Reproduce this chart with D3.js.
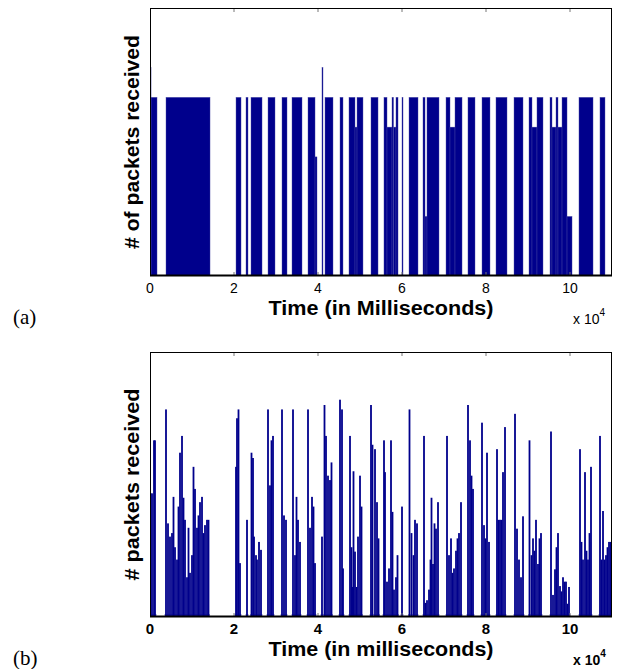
<!DOCTYPE html>
<html><head><meta charset="utf-8">
<script src="https://cdn.jsdelivr.net/npm/d3@7"></script>
<style>body{margin:0;background:#fff}svg{display:block}</style>
</head><body>
<svg id="c" width="624" height="669"></svg>
<script>
// ---- Data ----
// (a) segments of packets received: start ms, end ms, count
const segStartA = [0,250,3810,20480,22860,24050,28100,31430,33810,37620,39290,40950,41670,45240,47380,48810,49290,52620,55710,56430,57620,57980,58570,60000,61670,65000,65480,65950,70480,71430,72620,75710,79050,82380,86670,90240,90950,92140,95240,95710,96670,97140,98100,99290,102140,107140];
const segEndA   = [250,1670,14290,21670,23330,26670,29760,32620,36190,39290,39760,41190,43570,45950,48810,49290,50710,54290,56430,57620,57980,58570,59050,60240,63810,65480,65950,68810,71430,72620,74290,77380,80950,85000,88810,90950,92140,93570,95710,96670,97140,98100,99290,100480,105480,108330];
const segValueA = [7,6,6,6,6,6,6,6,6,6,4,7,6,6,6,5,6,6,6,5,6,5,6,6,6,6,2,6,6,5,6,6,6,6,6,6,5,6,6,5,6,5,6,2,6,6];

// (b) bars: time ms, packets
const timeB = [100,500,900,1200,
 3800,4300,4760,5240,5600,5950,6430,6790,7140,7620,7980,8330,8810,9170,9520,10000,10360,10710,11190,11550,11900,12380,12740,13100,13570,13930,
 20480,20710,21070,21430,23100,
 24170,24520,24760,25240,25480,25950,26430,
 28100,28570,28930,29290,
 31430,31900,32380,
 34050,34520,34880,35240,35710,
 37620,38100,38570,38930,39290,
 40950,41550,41900,42380,42860,43210,
 45240,45710,45950,
 47620,47980,48220,48450,48810,49170,49520,50000,50360,
 52620,52980,53570,54050,54400,
 55710,55950,56430,56900,57380,57740,58100,58570,58930,
 60000,
 61790,62260,62740,63100,63570,
 65240,65600,65950,66430,66790,67020,67380,67740,68100,68570,
 70710,71190,71670,72020,72380,72860,73210,73570,74050,
 75710,76190,76550,76900,
 79050,79520,79880,80240,80710,
 82620,82980,83330,83690,84050,84520,
 86900,87380,87860,88330,88810,
 90360,90830,91190,91550,91900,92380,92740,93100,
 95480,95950,96430,96790,97140,97620,97980,98330,98690,99050,99400,99760,
 102380,102740,103100,103570,103930,104290,104640,105000,
 107140,107500,107860,108210,108570,108930,109290,109640];
const valueB = [14,14,20,20,
 23.5,10.6,9.1,9.5,13.6,7.9,6.5,12.5,18.6,20.5,13.5,11,4.5,10.1,5,7,17,14.5,10.1,11.5,13,13.6,9.5,10.4,11,11,
 17,22.5,23.5,6.1,11,
 18.6,18,9.1,7,6.5,8.5,7.6,
 23.5,14.9,20,20.5,
 23.5,11.5,11,
 23.5,7,13.6,11,8.5,
 23.5,10.1,13.6,12.5,6.1,
 9.1,24,20.5,16,15.5,17.5,
 24.6,23.5,5.5,
 20.5,7.9,3.4,16.5,7.4,3.4,9.1,16,12.5,
 24,19.5,19,13,8.9,
 20,16.4,4,5.5,20,11.9,3.1,4.5,7,
 12.5,
 23.5,9.5,7,11,10.6,
 20.5,1.6,1.9,3.1,6.5,13.5,6,10.6,10,13,
 20.5,7,8.9,5,5.5,7.5,8.9,9.5,13,
 24,20,16,14.5,
 22,10.4,8.9,18.6,8.5,
 19,11,11,11,16.4,21.5,
 23,10,6.5,4.5,11.4,
 20,7,8.9,7.5,11,6,8.9,9.5,
 21,2.5,5.4,7.9,9.5,3.5,2.9,4.5,4,4,1.5,3.4,
 19,8.5,6.5,16.4,7.5,6.5,9.5,17,
 20.5,6.5,12,6.5,7,7.9,8.5,8.5];

const xTicks = [0,20000,40000,60000,80000,100000];
const xTickLabels = ["0","2","4","6","8","10"];

// ---- Drawing ----
const svg = d3.select("#c");
const barColor = "#00008c";
const SANS = "'Liberation Sans', Arial, Helvetica, sans-serif";
const L = 150, R = 612;

function panel(cfg){
  const x = d3.scaleLinear().domain([0,110000]).range([L,R]);
  const y = d3.scaleLinear().domain(cfg.yDomain).range([cfg.bottom,cfg.top]);
  const g = svg.append("g");
  const clipId = "clip"+cfg.id;
  svg.append("clipPath").attr("id",clipId).append("rect")
    .attr("x",L).attr("y",cfg.top).attr("width",R-L).attr("height",cfg.bottom-cfg.top);
  const marks = g.append("g").attr("clip-path","url(#"+clipId+")");
  cfg.draw(marks,x,y);
  // ticks (inside, bottom & top)
  const tk = g.append("g");
  xTicks.slice(1).forEach(t=>{
    tk.append("line").attr("x1",x(t)).attr("x2",x(t)).attr("y1",cfg.bottom).attr("y2",cfg.bottom-4)
      .attr("stroke","#777").attr("stroke-width",1);
    tk.append("line").attr("x1",x(t)).attr("x2",x(t)).attr("y1",cfg.top).attr("y2",cfg.top+4)
      .attr("stroke","#777").attr("stroke-width",1);
  });
  // frame
  g.append("rect").attr("x",L+0.5).attr("y",cfg.top+0.5).attr("width",R-L-1).attr("height",cfg.bottom-cfg.top-1)
    .attr("fill","none").attr("stroke","#000").attr("stroke-width",1);
  g.append("line").attr("x1",L).attr("x2",R).attr("y1",cfg.bottom-0.5).attr("y2",cfg.bottom-0.5)
    .attr("stroke","#000").attr("stroke-width",2);
  // tick labels
  xTicks.forEach((t,i)=>{
    g.append("text").attr("x",x(t)).attr("y",cfg.bottom+17).attr("text-anchor","middle")
      .attr("font-family",SANS).attr("font-size",cfg.bold?15:14)
      .attr("font-weight",cfg.bold?"bold":"normal").text(xTickLabels[i]);
  });
  // x label
  g.append("text").attr("x",(L+R)/2).attr("y",cfg.bottom+39).attr("text-anchor","middle")
    .attr("font-family",SANS).attr("font-size",20).attr("font-weight","bold")
    .attr("textLength",225).attr("lengthAdjust","spacingAndGlyphs").text(cfg.xlabel);
  // y label
  const yc = (cfg.top+cfg.bottom)/2;
  g.append("text").attr("transform","translate(139,"+yc+") rotate(-90)").attr("text-anchor","middle")
    .attr("font-family",SANS).attr("font-size",20).attr("font-weight","bold")
    .attr("textLength",cfg.ylen).attr("lengthAdjust","spacingAndGlyphs").text(cfg.ylabel);
  // exponent
  const ex = g.append("text").attr("x",573).attr("y",cfg.bottom+48)
    .attr("font-family",SANS).attr("font-size",14)
    .attr("font-weight",cfg.bold?"bold":"normal");
  ex.append("tspan").text("x 10");
  ex.append("tspan").attr("dy",-8).attr("font-size",10).text("4");
  // panel letter
  g.append("text").attr("x",13).attr("y",cfg.bottom+48)
    .attr("font-family","'Liberation Serif', 'DejaVu Serif', serif").attr("font-size",21).text(cfg.letter);
}

panel({id:"a", top:8, bottom:276, yDomain:[0,9], bold:false,
  xlabel:"Time (in Milliseconds)", ylabel:"# of packets received", ylen:214, letter:"(a)",
  draw:(m,x,y)=>{
    const d = segStartA.map((s,i)=>({s, e:segEndA[i], v:segValueA[i]}));
    m.selectAll("rect").data(d).join("rect")
      .attr("x",d=>x(d.s)).attr("width",d=>Math.max(1,x(d.e)-x(d.s)))
      .attr("y",d=>y(d.v)).attr("height",d=>y(0)-y(d.v))
      .attr("fill",barColor).attr("stroke","#4a4aa6").attr("stroke-width",0.4);
  }});

panel({id:"b", top:352, bottom:617, yDomain:[0,30], bold:true,
  xlabel:"Time (in milliseconds)", ylabel:"# packets received", ylen:192, letter:"(b)",
  draw:(m,x,y)=>{
    const d = timeB.map((t,i)=>({t, v:valueB[i]}));
    // faint band at base of each bar cluster
    m.append("g").selectAll("rect").data(d).join("rect")
      .attr("x",d=>x(d.t)-1.5).attr("width",3)
      .attr("y",y(0)-3).attr("height",3)
      .attr("fill","#8f8fcc");
    m.append("g").selectAll("rect").data(d).join("rect")
      .attr("x",d=>Math.round(x(d.t)*2)/2-0.9).attr("width",1.8)
      .attr("y",d=>y(d.v)).attr("height",d=>y(0)-y(d.v))
      .attr("fill",barColor);
  }});
</script>
</body></html>
